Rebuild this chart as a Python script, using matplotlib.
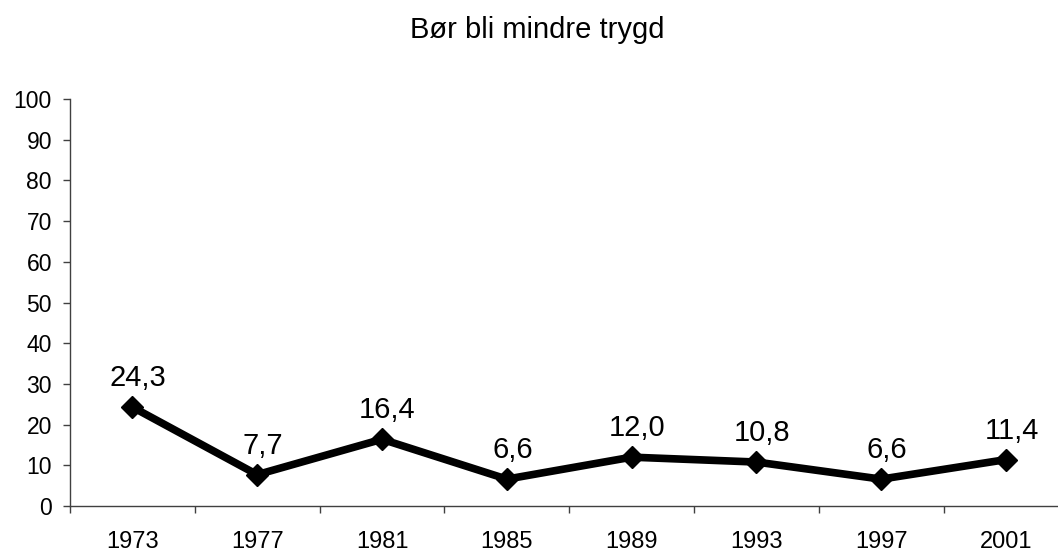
import numpy as np
import matplotlib
matplotlib.use('Agg')
import matplotlib.pyplot as plt
from matplotlib.ticker import FixedLocator, NullFormatter

plt.rcParams['font.family'] = ['Liberation Sans', 'DejaVu Sans']

# data
years = ["1973", "1977", "1981", "1985", "1989", "1993", "1997", "2001"]
values = [24.3, 7.7, 16.4, 6.6, 12.0, 10.8, 6.6, 11.4]
title = "Bør bli mindre trygd"

fig = plt.figure(figsize=(10.58, 5.54), dpi=100)
ax = fig.add_axes([70/1058, 1 - 506/554, 998.4/1058, 407/554])

x = np.arange(len(years)) + 0.5
ax.plot(x, values, color='black', linewidth=5.5, marker='D', markersize=11,
        solid_joinstyle='miter')

for xi, v in zip(x, values):
    ax.annotate(f"{v:.1f}".replace('.', ','), (xi, v), xytext=(4, 15),
                textcoords='offset points', ha='center', va='baseline',
                fontsize=21)

ax.set_xlim(0, len(years))
ax.set_ylim(0, 100)
ax.set_yticks(np.arange(0, 101, 10))
ax.tick_params(axis='y', direction='out', length=5, width=1, labelsize=16.5,
               pad=8, color='#404040')

ax.xaxis.set_major_locator(FixedLocator(np.arange(0, len(years) + 1)))
ax.xaxis.set_major_formatter(NullFormatter())
ax.xaxis.set_minor_locator(FixedLocator(x))
ax.set_xticklabels(years, minor=True)
ax.tick_params(axis='x', which='major', direction='out', length=5, width=1,
               color='#404040')
ax.tick_params(axis='x', which='minor', length=0, labelsize=17, pad=18)

for s in ['top', 'right']:
    ax.spines[s].set_visible(False)
for s in ['left', 'bottom']:
    ax.spines[s].set_color('#404040')
    ax.spines[s].set_linewidth(1)

fig.text(537/1058, 1 - 38/554, title, ha='center', va='baseline', fontsize=21)

plt.savefig("out.png", dpi=100)
